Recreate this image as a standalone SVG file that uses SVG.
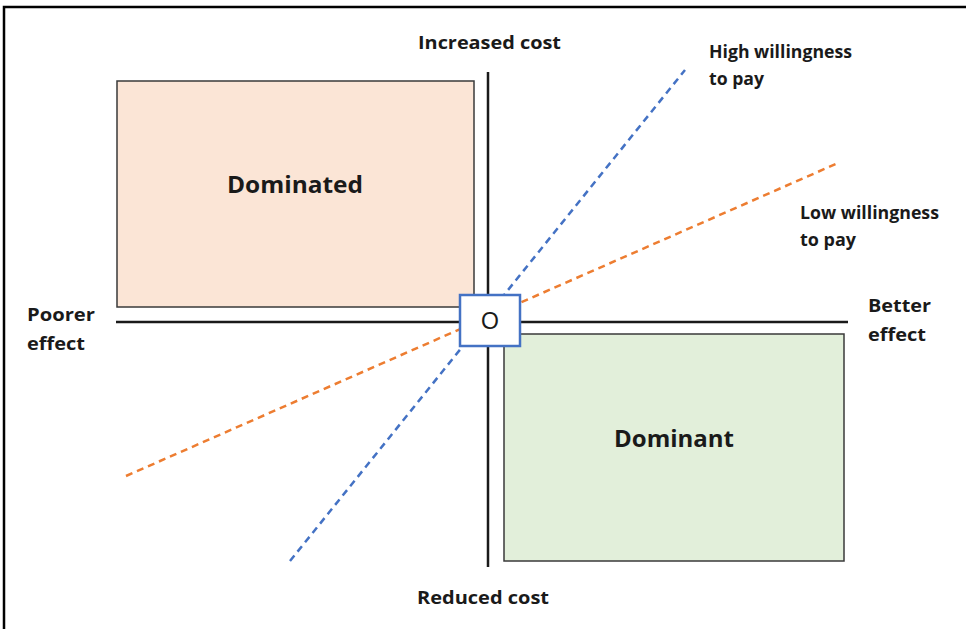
<svg xmlns="http://www.w3.org/2000/svg" width="966" height="629" viewBox="0 0 966 629">
  <style>
    .lbl { font-family: "Open Sans", "Liberation Sans", sans-serif; font-weight: bold; font-size: 17.5px; fill: #1a1a1a; }
    .big { font-family: "Open Sans", "Liberation Sans", sans-serif; font-weight: bold; font-size: 23.5px; fill: #1a1a1a; }
    .axis { stroke: #1a1a1a; stroke-width: 2.5; fill: none; }
    .region { stroke: #3a3a3a; stroke-width: 1.5; }
    .wtp { stroke-width: 2.5; stroke-dasharray: 7 5; fill: none; }
  </style>
  <rect x="0" y="0" width="966" height="629" fill="#ffffff"/>
  <!-- frame -->
  <path d="M4 629 V7 H966" fill="none" stroke="#000" stroke-width="2.5"/>

  <g id="dominated">
    <rect class="region" x="117" y="81" width="357" height="226" fill="#fbe5d6"/>
    <text class="big" x="227" y="193" textLength="136" lengthAdjust="spacingAndGlyphs">Dominated</text>
  </g>
  <g id="dominant">
    <rect class="region" x="504" y="334" width="340" height="227" fill="#e2efda"/>
    <text class="big" x="614" y="447" textLength="120" lengthAdjust="spacingAndGlyphs">Dominant</text>
  </g>

  <g id="connectors">
    <line class="axis" x1="488" y1="72" x2="488" y2="567"/>
    <line class="axis" x1="116" y1="322" x2="848" y2="322"/>
    <line class="wtp" x1="290" y1="561" x2="685" y2="70" stroke="#4472c4"/>
    <line class="wtp" x1="126" y1="476" x2="838" y2="163" stroke="#ed7d31"/>
  </g>

  <g id="origin">
    <rect x="460" y="295" width="60" height="51" fill="#ffffff" stroke="#4472c4" stroke-width="2.5"/>
    <text x="490" y="329" text-anchor="middle" font-family="Liberation Sans, sans-serif" font-size="23" fill="#1a1a1a">O</text>
  </g>

  <g id="labels">
    <text class="lbl" x="418" y="49" textLength="143" lengthAdjust="spacingAndGlyphs">Increased cost</text>
    <text class="lbl" x="417" y="604" textLength="132" lengthAdjust="spacingAndGlyphs">Reduced cost</text>
    <text class="lbl" x="709" y="58" textLength="143" lengthAdjust="spacingAndGlyphs">High willingness</text>
    <text class="lbl" x="709" y="85" textLength="55" lengthAdjust="spacingAndGlyphs">to pay</text>
    <text class="lbl" x="800" y="219" textLength="139" lengthAdjust="spacingAndGlyphs">Low willingness</text>
    <text class="lbl" x="800" y="246" textLength="56" lengthAdjust="spacingAndGlyphs">to pay</text>
    <text class="lbl" x="868" y="312" textLength="63" lengthAdjust="spacingAndGlyphs">Better</text>
    <text class="lbl" x="868" y="341" textLength="58" lengthAdjust="spacingAndGlyphs">effect</text>
    <text class="lbl" x="27" y="321" textLength="68" lengthAdjust="spacingAndGlyphs">Poorer</text>
    <text class="lbl" x="27" y="350" textLength="58" lengthAdjust="spacingAndGlyphs">effect</text>
  </g>
</svg>
